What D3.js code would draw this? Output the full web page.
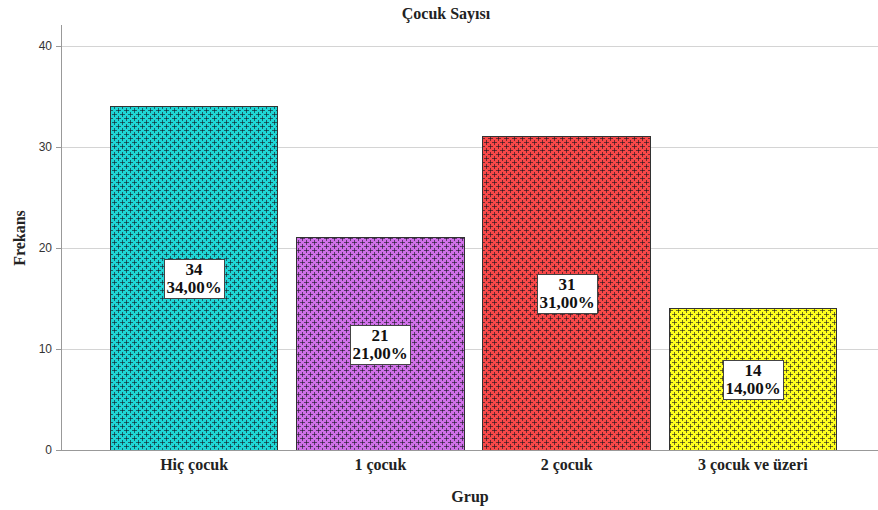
<!DOCTYPE html>
<html><head><meta charset="utf-8">
<script src="https://cdn.jsdelivr.net/npm/d3@7/dist/d3.min.js"></script>
<style>body{margin:0;background:#fff}svg{display:block}</style>
</head><body>
<svg id="c" width="878" height="510"></svg>
<script>
const categories = ["Hiç çocuk", "1 çocuk", "2 çocuk", "3 çocuk ve üzeri"];
const counts = [34, 21, 31, 14];
const percents = ["34,00%", "21,00%", "31,00%", "14,00%"];
const colors = ["#1fd6d6", "#d070e8", "#f84848", "#ffff1e"];
const yTicks = [0, 10, 20, 30, 40];

const svg = d3.select("#c");
const serif = "'Liberation Serif','DejaVu Serif',serif";
const sans = "'Liberation Sans',Arial,sans-serif";
const y = d3.scaleLinear().domain([0, 40]).range([450, 46]);
const x = d3.scaleBand().domain(categories).range([101, 846]).paddingInner(0.1).paddingOuter(0.05);

const defs = svg.append("defs");
colors.forEach((c, i) => {
  const p = defs.append("pattern").attr("id", "p" + i).attr("patternUnits", "userSpaceOnUse")
    .attr("width", 8).attr("height", 8).attr("x", 0).attr("y", 0);
  p.append("rect").attr("width", 8).attr("height", 8).attr("fill", c);
  const dark = "rgba(20,20,30,0.6)";
  [[2,2],[6,6],[10,2],[2,10],[-2,6],[6,-2]].forEach(([cx, cy]) => {
    p.append("rect").attr("x", cx - 2).attr("y", cy).attr("width", 5).attr("height", 1).attr("fill", dark);
    p.append("rect").attr("x", cx).attr("y", cy - 2).attr("width", 1).attr("height", 5).attr("fill", dark);
  });
});

// gridlines
svg.append("g").selectAll("line").data(yTicks.filter(d => d > 0)).join("line")
  .attr("x1", 61).attr("x2", 878).attr("y1", d => y(d)).attr("y2", d => y(d))
  .attr("stroke", "#d4d4d4").attr("stroke-width", 1).attr("shape-rendering", "crispEdges");

// y axis
const ya = svg.append("g").attr("transform", "translate(61,0)")
  .call(d3.axisLeft(y).tickValues(yTicks).tickSize(5).tickPadding(4));
ya.select(".domain").remove();
ya.selectAll(".tick line").attr("stroke", "#999");
ya.selectAll(".tick text").attr("font-family", sans).attr("font-size", 12).attr("fill", "#333");
svg.append("line").attr("x1", 61).attr("x2", 61).attr("y1", 25).attr("y2", 450)
  .attr("stroke", "#999").attr("shape-rendering", "crispEdges");

// bars
svg.append("g").selectAll("rect").data(counts).join("rect")
  .attr("x", (d, i) => x(categories[i])).attr("width", x.bandwidth())
  .attr("y", d => y(d)).attr("height", d => y(0) - y(d))
  .attr("fill", (d, i) => `url(#p${i})`).attr("stroke", "#333").attr("stroke-width", 1)
  .attr("shape-rendering", "crispEdges");

// x axis line
svg.append("line").attr("x1", 61).attr("x2", 878).attr("y1", 450.5).attr("y2", 450.5)
  .attr("stroke", "#999");

// x category labels
const xa = svg.append("g").attr("transform", "translate(0,450)")
  .call(d3.axisBottom(x).tickSize(0).tickPadding(9));
xa.select(".domain").remove();
xa.selectAll(".tick text").attr("font-family", serif).attr("font-weight", "bold")
  .attr("font-size", 16).attr("fill", "#222");

// value labels
const lab = svg.append("g").selectAll("g").data(counts).join("g")
  .attr("transform", (d, i) => `translate(${Math.round(x(categories[i]) + x.bandwidth() / 2)},${Math.round(y(d / 2))})`);
lab.append("rect").attr("x", -30).attr("y", -19).attr("width", 60).attr("height", 39)
  .attr("fill", "#fff").attr("stroke", "#444").attr("shape-rendering", "crispEdges");
lab.append("text").attr("y", -3).attr("text-anchor", "middle").attr("font-family", serif)
  .attr("font-weight", "bold").attr("font-size", 17).attr("fill", "#111").text(d => d);
lab.append("text").attr("y", 15).attr("text-anchor", "middle").attr("font-family", serif)
  .attr("font-weight", "bold").attr("font-size", 17).attr("fill", "#111").text((d, i) => percents[i]);

// titles
svg.append("text").attr("x", 446).attr("y", 19).attr("text-anchor", "middle")
  .attr("font-family", serif).attr("font-weight", "bold").attr("font-size", 16).attr("fill", "#222").text("Çocuk Sayısı");
svg.append("text").attr("x", 470).attr("y", 502).attr("text-anchor", "middle")
  .attr("font-family", serif).attr("font-weight", "bold").attr("font-size", 16).attr("fill", "#222").text("Grup");
svg.append("text").attr("transform", "translate(25,238) rotate(-90)").attr("text-anchor", "middle")
  .attr("font-family", serif).attr("font-weight", "bold").attr("font-size", 16).attr("fill", "#222").text("Frekans");
</script>
</body></html>
